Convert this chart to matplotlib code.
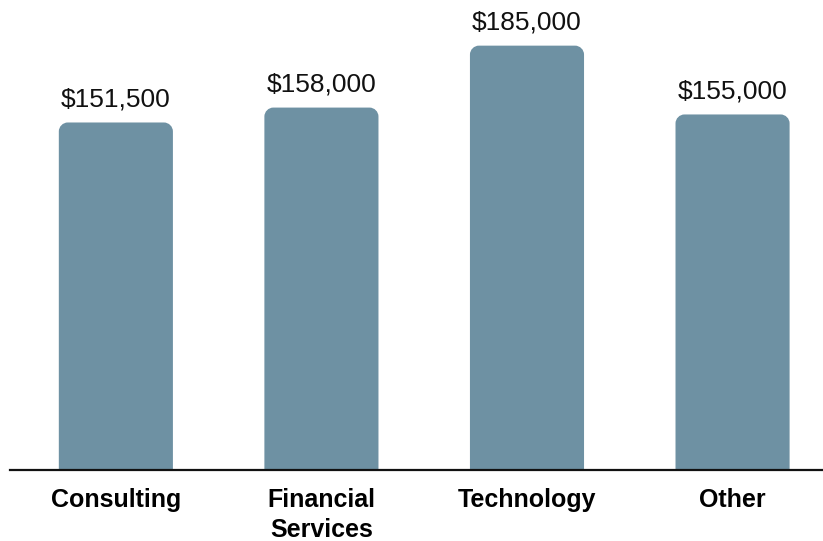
import matplotlib
matplotlib.use("Agg")
import matplotlib.pyplot as plt
from matplotlib.path import Path
from matplotlib.patches import PathPatch

categories = ["Consulting", "Financial\nServices", "Technology", "Other"]
values = [151500, 158000, 185000, 155000]
value_labels = ["$151,500", "$158,000", "$185,000", "$155,000"]

plt.rcParams['font.family'] = ['Liberation Sans', 'DejaVu Sans']

W, H = 823, 541
fig = plt.figure(figsize=(W/100, H/100), dpi=100)
bottom_px = 71
ax = fig.add_axes([10/W, bottom_px/H, (W-10)/W, (H-bottom_px)/H])
ax.set_xlim(-0.515, 3.44)
ymax = 204900
ax.set_ylim(0, ymax)

color = "#6e91a3"
bars = ax.bar(range(len(values)), values, width=0.555, color=color, alpha=0)

# pixel to data conversions
px_x = (3.44 + 0.515) / (W - 10)
px_y = ymax / (H - bottom_px)
r = 9
rx, ry = r * px_x, r * px_y
k = 0.5523
for b in bars:
    x0, y0 = b.get_x(), b.get_y()
    w, h = b.get_width(), b.get_height()
    x1, y1 = x0 + w, y0 + h
    verts = [
        (x0, y0), (x0, y1 - ry),
        (x0, y1 - ry + k*ry), (x0 + rx - k*rx, y1), (x0 + rx, y1),
        (x1 - rx, y1),
        (x1 - rx + k*rx, y1), (x1, y1 - ry + k*ry), (x1, y1 - ry),
        (x1, y0), (x0, y0),
    ]
    codes = [Path.MOVETO, Path.LINETO,
             Path.CURVE4, Path.CURVE4, Path.CURVE4,
             Path.LINETO,
             Path.CURVE4, Path.CURVE4, Path.CURVE4,
             Path.LINETO, Path.CLOSEPOLY]
    ax.add_patch(PathPatch(Path(verts, codes), facecolor=color, edgecolor='none'))

for i, (v, lab) in enumerate(zip(values, value_labels)):
    ax.annotate(lab, (i, v), xytext=(0, 8), textcoords='offset points',
                ha='center', va='bottom', fontsize=19, color='#111111')

for s in ['top', 'right', 'left']:
    ax.spines[s].set_visible(False)
ax.spines['bottom'].set_linewidth(1.6)
ax.spines['bottom'].set_color('#111111')
ax.set_yticks([])
ax.set_xticks(range(len(categories)))
ax.set_xticklabels(categories, fontsize=18, fontweight='bold', linespacing=1.3)
ax.tick_params(axis='x', length=0, pad=13)

fig.savefig("out.png", dpi=100)
